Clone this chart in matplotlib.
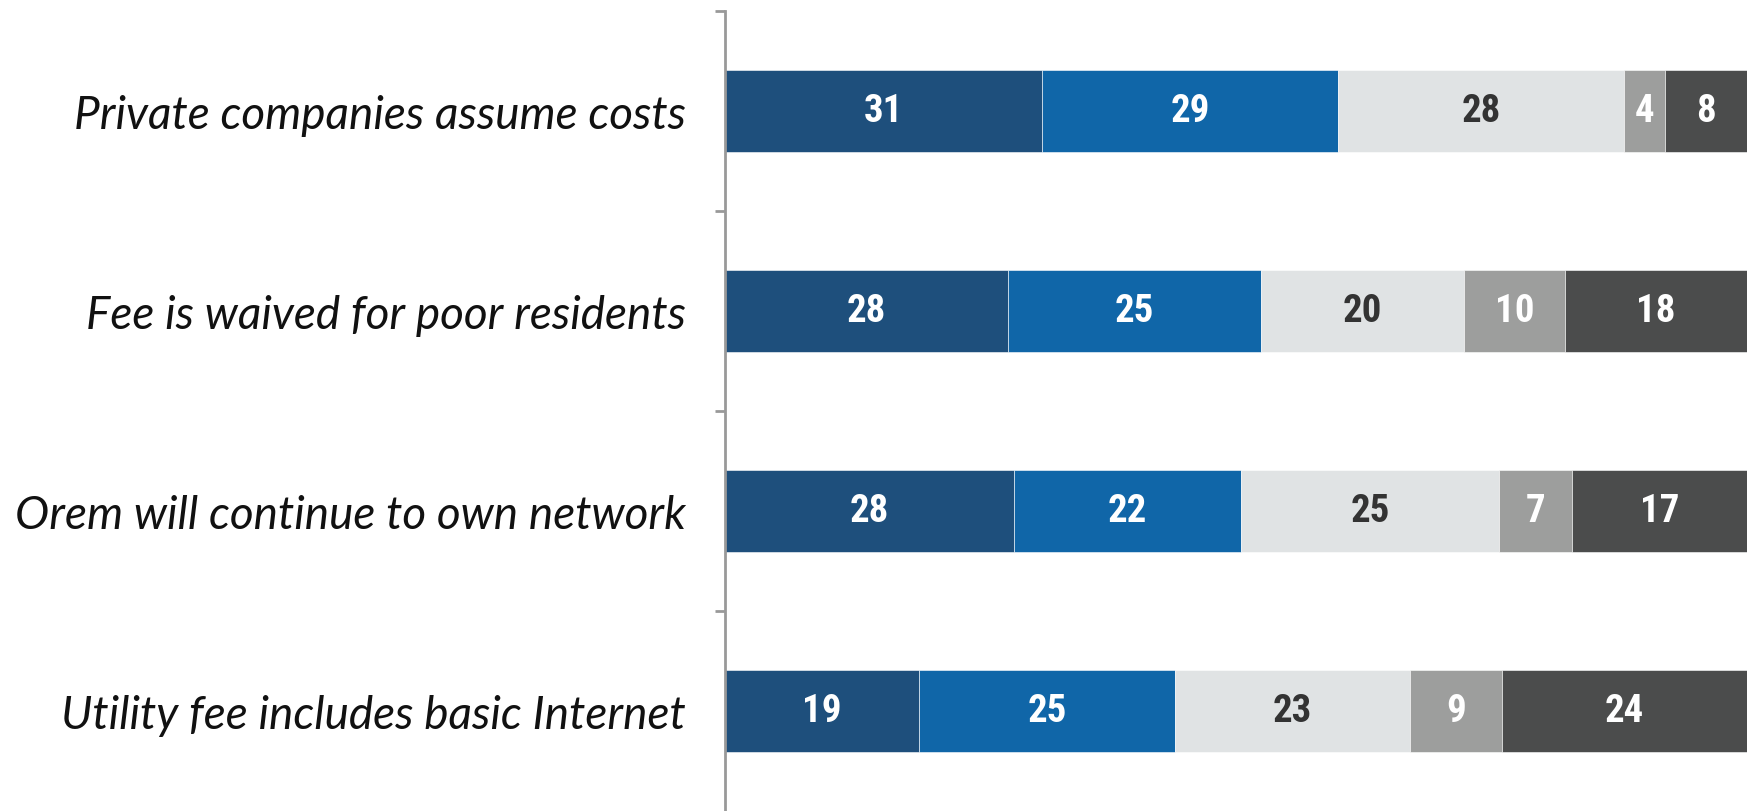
import matplotlib
matplotlib.use("Agg")
import matplotlib.pyplot as plt
import numpy as np
from matplotlib import font_manager

categories = ["Private companies assume costs", "Fee is waived for poor residents",
              "Orem will continue to own network", "Utility fee includes basic Internet"]
seg1 = [31, 28, 28, 19]
seg2 = [29, 25, 22, 25]
seg3 = [28, 20, 25, 23]
seg4 = [4, 10, 7, 9]
seg5 = [8, 18, 17, 24]
series = [seg1, seg2, seg3, seg4, seg5]
colors = ["#1E4F7C", "#1066A8", "#E0E3E4", "#9D9E9D", "#4B4C4C"]
text_colors = ["white", "white", "#333333", "white", "white"]

fonts = font_manager.fontManager.ttflist
names = {f.name for f in fonts}
num_font, num_stretch = "DejaVu Sans", "condensed"
for cand in ["Roboto Condensed", "Liberation Sans Narrow", "Open Sans Condensed"]:
    if cand in names:
        num_font, num_stretch = cand, "normal"
        break
else:
    if any(f.name == "Roboto" and f.stretch == "condensed" for f in fonts):
        num_font = "Roboto"
lab_font = "Lato" if "Lato" in names else "DejaVu Sans"

fig = plt.figure(figsize=(17.47, 8.12), dpi=100)
ax = fig.add_axes([725/1747, 0, 1 - 725/1747, 800/812])

data = np.array(series, dtype=float)
totals = data.sum(axis=0)
y = np.arange(len(categories))
left = np.zeros(len(categories))
for vals, c, tc in zip(series, colors, text_colors):
    w = np.array(vals) / totals * 100
    ax.barh(y, w, left=left, height=0.41, color=c, edgecolor="white", linewidth=0.4)
    for yi, li, wi, v in zip(y, left, w, vals):
        ax.text(li + wi / 2, yi, str(v), ha="center", va="center", color=tc,
                fontsize=28, fontweight="bold", family=num_font, fontstretch=num_stretch)
    left += w

ax.set_xlim(0, 100)
ax.set_ylim(len(categories) - 0.5, -0.5)
ax.set_yticks(np.arange(len(categories)) - 0.5)
ax.set_yticklabels([])
ax.tick_params(axis="y", which="major", length=7, width=2, color="#999999", direction="out")
ax.set_yticks(y, minor=True)
ax.set_yticklabels(categories, minor=True, fontsize=33, style="italic", family=lab_font,
                   fontweight="normal", color="#111111")
ax.tick_params(axis="y", which="minor", length=0, pad=28)
ax.set_xticks([])
for s in ["top", "right", "bottom"]:
    ax.spines[s].set_visible(False)
ax.spines["left"].set_color("#999999")
ax.spines["left"].set_linewidth(2)

fig.savefig("out.png", dpi=100)
